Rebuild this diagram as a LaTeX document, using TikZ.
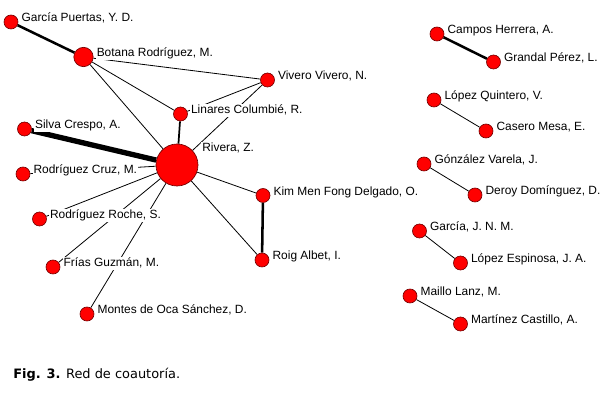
\documentclass[tikz,border=0pt]{standalone}
\usepackage{fontspec}
\usetikzlibrary{positioning, backgrounds}
\newfontfamily\lblfont{Liberation Sans}
\newfontfamily\capfont{DejaVu Sans}

\begin{document}
\begin{tikzpicture}[x=.75pt, y=-.75pt,
	dot/.style={circle, fill=red, draw=red!45!black, line width=.5pt, inner sep=0pt, minimum size=10.5pt},
	mid/.style={dot, minimum size=14.5pt},
	hub/.style={dot, minimum size=31.5pt},
	lbl/.style={anchor=base west, fill=white, inner sep=.75pt, font=\lblfont\fontsize{8.95}{10}\selectfont},
	tie/.style={line width=.6pt},
	strong/.style={line width=1.9pt}]
	\useasboundingbox (0,0) rectangle (607,413);
	% main component
	\node[dot] (gp) at (11,22) {};
	\node[mid] (br) at (83.5,57) {};
	\node[dot] (vv) at (267.5,80) {};
	\node[dot] (lc) at (180.5,114) {};
	\node[dot] (sc) at (24.5,129) {};
	\node[hub] (rz) at (177,165) {};
	\node[dot] (rc) at (23,174) {};
	\node[dot] (km) at (263,195.5) {};
	\node[dot] (rr) at (39.5,219) {};
	\node[dot] (ra) at (262,260) {};
	\node[dot] (fg) at (53,267) {};
	\node[dot] (mo) at (87,314) {};
	% pairs
	\node[dot] (ch) at (437,34) {};
	\node[dot] (gr) at (493.5,62) {};
	\node[dot] (lq) at (434,100) {};
	\node[dot] (cm) at (486,131) {};
	\node[dot] (gv) at (424,164) {};
	\node[dot] (dd) at (475,195) {};
	\node[dot] (gj) at (419.5,231) {};
	\node[dot] (le) at (460.5,263) {};
	\node[dot] (ml) at (410,296) {};
	\node[dot] (mc) at (460.5,324) {};
	\begin{scope}[on background layer]
		\draw[strong] (gp) -- (br);
		\draw[tie] (br) -- (vv);
		\draw[tie] (br) -- (lc);
		\draw[tie] (br) -- (rz);
		\draw[tie] (lc) -- (vv);
		\draw[tie] (rz) -- (vv);
		\draw[line width=1.3pt] (rz) -- (lc);
		\draw[line width=4pt] (sc) -- (rz);
		\draw[tie] (rz) -- (rc);
		\draw[tie] (rz) -- (rr);
		\draw[tie] (rz) -- (fg);
		\draw[tie] (rz) -- (mo);
		\draw[tie] (rz) -- (km);
		\draw[tie] (rz) -- (ra);
		\draw[strong] (km) -- (ra);
		\draw[strong] (ch) -- (gr);
		\draw[tie] (lq) -- (cm);
		\draw[tie] (gv) -- (dd);
		\draw[tie] (gj) -- (le);
		\draw[tie] (ml) -- (mc);
	\end{scope}
	% names
	\node[lbl] (gp-l) at ([xshift=1.5pt]gp.east) {García Puertas, Y. D.};
	\node[lbl] (br-l) at ([xshift=1.5pt]br.east) {Botana Rodríguez, M.};
	\node[lbl] (vv-l) at ([xshift=1.5pt]vv.east) {Vivero Vivero, N.};
	\node[lbl] (lc-l) at ([xshift=1.5pt]lc.east) {Linares Columbié, R.};
	\node[lbl] (sc-l) at ([xshift=1.5pt]sc.east) {Silva Crespo, A.};
	\node[lbl] (rz-l) at ([shift={(24,-13.5)}]rz.center) {Rivera, Z.};
	\node[lbl] (rc-l) at ([xshift=1.5pt]rc.east) {Rodríguez Cruz, M.};
	\node[lbl] (km-l) at ([xshift=1.5pt]km.east) {Kim Men Fong Delgado, O.};
	\node[lbl] (rr-l) at ([xshift=1.5pt]rr.east) {Rodríguez Roche, S.};
	\node[lbl] (ra-l) at ([xshift=1.5pt]ra.east) {Roig Albet, I.};
	\node[lbl] (fg-l) at ([xshift=1.5pt]fg.east) {Frías Guzmán, M.};
	\node[lbl] (mo-l) at ([xshift=1.5pt]mo.east) {Montes de Oca Sánchez, D.};
	\node[lbl] (ch-l) at ([xshift=1.5pt]ch.east) {Campos Herrera, A.};
	\node[lbl] (gr-l) at ([xshift=1.5pt]gr.east) {Grandal Pérez, L.};
	\node[lbl] (lq-l) at ([xshift=1.5pt]lq.east) {López Quintero, V.};
	\node[lbl] (cm-l) at ([xshift=1.5pt]cm.east) {Casero Mesa, E.};
	\node[lbl] (gv-l) at ([xshift=1.5pt]gv.east) {Gónzález Varela, J.};
	\node[lbl] (dd-l) at ([xshift=1.5pt]dd.east) {Deroy Domínguez, D.};
	\node[lbl] (gj-l) at ([xshift=1.5pt]gj.east) {García, J. N. M.};
	\node[lbl] (le-l) at ([xshift=1.5pt]le.east) {López Espinosa, J. A.};
	\node[lbl] (ml-l) at ([xshift=1.5pt]ml.east) {Maillo Lanz, M.};
	\node[lbl] (mc-l) at ([xshift=1.5pt]mc.east) {Martínez Castillo, A.};
	% caption
	\node[anchor=base west, inner sep=0pt, font=\capfont\fontsize{9.7}{12}\selectfont] (cap) at (13,378.5) {\textbf{Fig. 3.} Red de coautoría.};
\end{tikzpicture}
\end{document}
